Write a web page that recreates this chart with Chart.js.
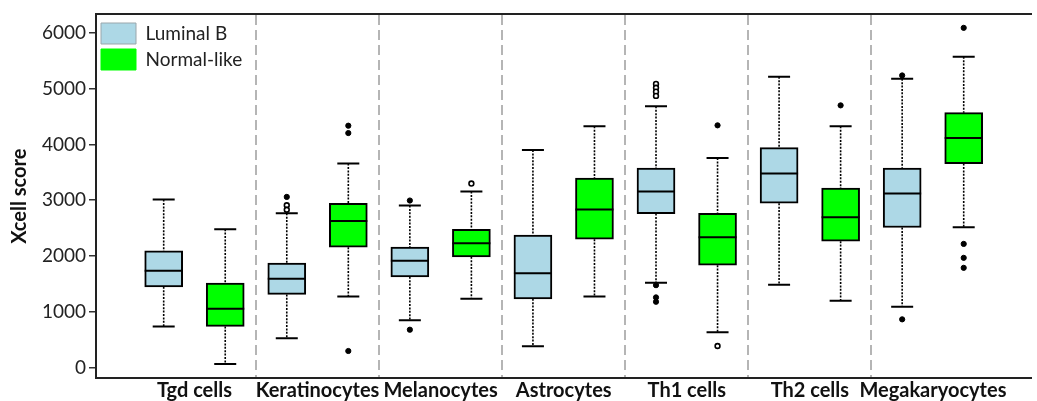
<!DOCTYPE html>
<html>
<head>
<meta charset="utf-8">
<script src="https://cdn.jsdelivr.net/npm/chart.js@4/dist/chart.umd.min.js"></script>
<style>
  html, body { margin: 0; padding: 0; background: #ffffff; }
  #wrap { width: 1037px; height: 401px; position: relative; }
</style>
</head>
<body>
<div id="wrap"><canvas id="c"></canvas></div>
<script>
// ---- Data ----
const categories = ['Tgd cells', 'Keratinocytes', 'Melanocytes', 'Astrocytes', 'Th1 cells', 'Th2 cells', 'Megakaryocytes'];
const seriesNames = ['Luminal B', 'Normal-like'];
const yTicks = [0, 1000, 2000, 3000, 4000, 5000, 6000];

// Luminal B
const lumB_min    = [740, 526, 848, 383, 1521, 1485, 1091];
const lumB_q1     = [1449, 1313, 1628, 1234, 2761, 2946, 2511];
const lumB_median = [1735, 1592, 1914, 1694, 3156, 3478, 3120];
const lumB_q3     = [2093, 1873, 2159, 2374, 3578, 3943, 3578];
const lumB_max    = [3012, 2767, 2905, 3900, 4682, 5213, 5177];
const lumB_outliers     = [[], [3060], [2995, 680], [], [1478, 1259, 1181], [], [5236, 866]];
const lumB_openOutliers = [[], [2910, 2830], [], [], [5085, 5015, 4945, 4870], [], []];

// Normal-like
const nl_min    = [66, 1277, 1234, 1277, 633, 1198, 2517];
const nl_q1     = [740, 2159, 1986, 2302, 1837, 2266, 3657];
const nl_median = [1055, 2630, 2231, 2834, 2338, 2696, 4114];
const nl_q3     = [1515, 2946, 2481, 3399, 2767, 3220, 4569];
const nl_max    = [2481, 3657, 3156, 4324, 3757, 4324, 5571];
const nl_outliers     = [[], [4336, 4204, 299], [], [], [4342], [4700], [6089, 2218, 1968, 1789]];
const nl_openOutliers = [[], [], [3299], [], [388], [], []];

// ---- Build chart structures ----
const OFFSET = 0.25;
const groups = [
  { off: -OFFSET, min: lumB_min, q1: lumB_q1, med: lumB_median, q3: lumB_q3, max: lumB_max },
  { off: OFFSET,  min: nl_min,   q1: nl_q1,   med: nl_median,   q3: nl_q3,   max: nl_max }
];

function boxData(q1, q3, off) {
  return categories.map((c, i) => ({ x: i + off, y: [q1[i], q3[i]] }));
}
function outlierData(lists, off) {
  const pts = [];
  lists.forEach((vals, i) => vals.forEach(v => pts.push({ x: i + off, y: v })));
  return pts;
}

const FONT = 'Lato, "Open Sans", "DejaVu Sans", sans-serif';

const boxPlugin = {
  id: 'boxWhiskers',
  beforeDatasetsDraw(chart) {
    const { ctx, scales: { x, y } } = chart;
    ctx.save();
    ctx.strokeStyle = '#000';
    groups.forEach(g => {
      categories.forEach((c, i) => {
        const px = x.getPixelForValue(i + g.off);
        const yMin = y.getPixelForValue(g.min[i]);
        const yMax = y.getPixelForValue(g.max[i]);
        const yQ1 = y.getPixelForValue(g.q1[i]);
        const yQ3 = y.getPixelForValue(g.q3[i]);
        ctx.lineWidth = 1.6;
        ctx.setLineDash([2, 1.4]);
        ctx.beginPath();
        ctx.moveTo(px, yMax); ctx.lineTo(px, yQ3);
        ctx.moveTo(px, yQ1); ctx.lineTo(px, yMin);
        ctx.stroke();
        ctx.setLineDash([]);
        ctx.lineWidth = 2;
        ctx.beginPath();
        ctx.moveTo(px - 11, yMax); ctx.lineTo(px + 11, yMax);
        ctx.moveTo(px - 11, yMin); ctx.lineTo(px + 11, yMin);
        ctx.stroke();
      });
    });
    ctx.restore();
  },
  afterDatasetsDraw(chart) {
    const { ctx, scales: { x, y } } = chart;
    ctx.save();
    ctx.strokeStyle = '#000';
    ctx.lineWidth = 2;
    groups.forEach(g => {
      categories.forEach((c, i) => {
        const px = x.getPixelForValue(i + g.off);
        const ym = y.getPixelForValue(g.med[i]);
        ctx.beginPath();
        ctx.moveTo(px - 19, ym); ctx.lineTo(px + 19, ym);
        ctx.stroke();
      });
    });
    ctx.restore();
  }
};

const dividerTicks = categories.slice(1).map((c, i) => i + 0.5);

new Chart(document.getElementById('c'), {
  type: 'bar',
  data: {
    datasets: [
      { type: 'bar', label: seriesNames[0], data: boxData(lumB_q1, lumB_q3, -OFFSET),
        backgroundColor: '#ADD8E6', borderColor: '#000', borderWidth: 2, borderSkipped: false,
        barThickness: 38, grouped: false, order: 2 },
      { type: 'bar', label: seriesNames[1], data: boxData(nl_q1, nl_q3, OFFSET),
        backgroundColor: '#00FF00', borderColor: '#000', borderWidth: 2, borderSkipped: false,
        barThickness: 38, grouped: false, order: 2 },
      { type: 'scatter', label: 'o1', data: outlierData(lumB_outliers, -OFFSET).concat(outlierData(nl_outliers, OFFSET)),
        pointRadius: 2.6, pointBackgroundColor: '#000', pointBorderColor: '#000', pointBorderWidth: 1, showLine: false, order: 1 },
      { type: 'scatter', label: 'o2', data: outlierData(lumB_openOutliers, -OFFSET).concat(outlierData(nl_openOutliers, OFFSET)),
        pointRadius: 2.4, pointBackgroundColor: '#fff', pointBorderColor: '#000', pointBorderWidth: 1.6, showLine: false, order: 1 }
    ]
  },
  options: {
    responsive: true,
    maintainAspectRatio: false,
    animation: false,
    events: [],
    layout: { padding: { top: 14, left: 0, right: 0, bottom: 0 } },
    plugins: {
      tooltip: { enabled: false },
      legend: {
        position: 'chartArea',
        align: 'start',
        title: { display: true, text: ' ', font: { size: 10, lineHeight: 1 }, padding: { top: 0, bottom: 8 } },
        labels: {
          filter: (item) => item.datasetIndex < 2,
          boxWidth: 35,
          boxHeight: 21,
          padding: 5,
          color: '#222',
          font: { family: FONT, size: 19 },
          generateLabels: (chart) => seriesNames.map((n, i) => ({
            text: n,
            fillStyle: i === 0 ? '#ADD8E6' : '#00FF00',
            strokeStyle: i === 0 ? '#9aa6ab' : '#00FF00',
            lineWidth: 1,
            fontColor: '#222',
            hidden: false,
            datasetIndex: i
          }))
        }
      }
    },
    scales: {
      x: {
        type: 'linear',
        position: 'bottom',
        offset: false,
        min: -0.8,
        max: 6.8,
        afterBuildTicks: (s) => { s.ticks = categories.map((c, i) => ({ value: i })); },
        afterFit: (s) => { s.height = 23; },
        ticks: {
          autoSkip: false, maxRotation: 0, padding: 1,
          color: '#111',
          font: { family: FONT, size: 20, weight: 'bold' },
          callback: (v) => categories[v]
        },
        grid: { display: false, drawTicks: false, offset: false },
        border: { display: true, color: '#222', width: 2 }
      },
      xd: {
        type: 'linear',
        position: 'top',
        offset: false,
        min: -0.8,
        max: 6.8,
        afterBuildTicks: (s) => { s.ticks = dividerTicks.map(v => ({ value: v })); },
        afterFit: (s) => { s.height = 0; },
        ticks: { display: false },
        grid: { display: true, offset: false, drawTicks: false, color: '#b5b5b5', lineWidth: 2 },
        border: { display: true, color: '#222', width: 2, dash: [10, 5] }
      },
      y: {
        type: 'linear',
        min: -185,
        max: 6330,
        afterBuildTicks: (s) => { s.ticks = yTicks.map(v => ({ value: v })); },
        afterFit: (s) => { s.width = 96; },
        ticks: {
          padding: 3,
          color: '#222',
          font: { family: FONT, size: 19 },
          callback: (v) => String(v)
        },
        grid: { drawOnChartArea: false, drawTicks: true, tickLength: 7, color: '#333', lineWidth: 1.5 },
        border: { display: true, color: '#222', width: 2 },
        title: {
          display: true,
          text: 'Xcell score',
          color: '#111',
          font: { family: FONT, size: 20, weight: 'bold' },
          padding: { top: 8, bottom: 0 }
        }
      }
    }
  },
  plugins: [boxPlugin]
});
</script>
</body>
</html>
